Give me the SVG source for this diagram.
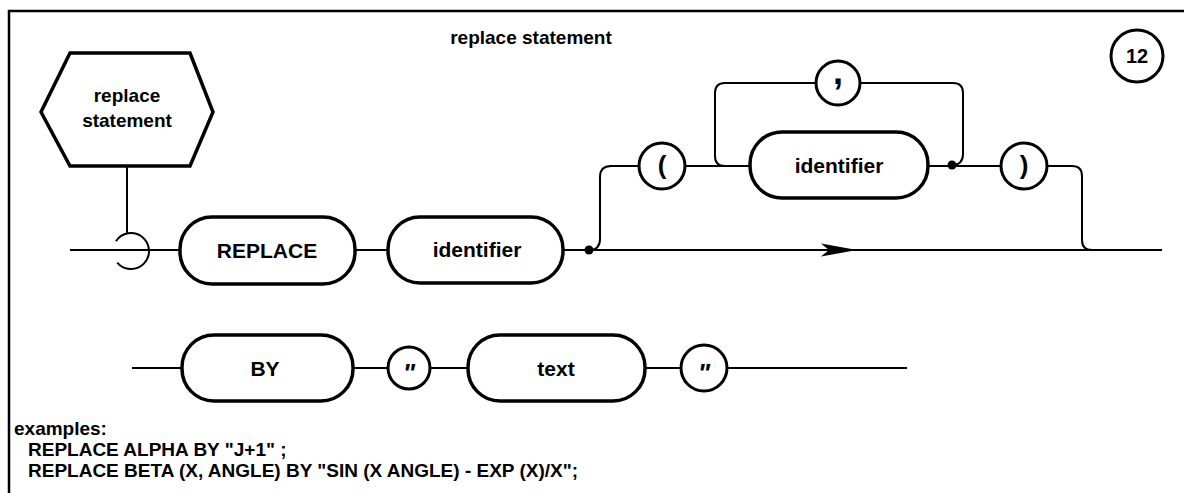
<svg xmlns="http://www.w3.org/2000/svg" width="1184" height="493" viewBox="0 0 1184 493">
<style>
.bg{fill:#fff}
.frame{fill:none;stroke:#000;stroke-width:2.5}
.box{fill:#fff;stroke:#000;stroke-width:3.5}
.circ{fill:#fff;stroke:#000;stroke-width:3}
.line{fill:none;stroke:#000;stroke-width:2}
.t{font-family:"Liberation Sans",Arial,sans-serif;font-weight:bold;fill:#000;text-anchor:middle}
.lbl{font-size:21px}
.hex{font-size:19px}
.sym{font-size:26px}
.ex{font-family:"Liberation Sans",Arial,sans-serif;font-weight:bold;font-size:19px;fill:#000}
</style>
<rect class="bg" x="0" y="0" width="1184" height="493"/>
<g id="frame">
<path class="frame" d="M9 493 V11 H1184"/>
<text class="t" x="531" y="44" style="font-size:19px">replace statement</text>
</g>
<g id="page-number">
<circle class="circ" cx="1137" cy="56" r="26"/>
<text class="t" x="1137" y="63" style="font-size:20px">12</text>
</g>
<g id="connectors">
<path class="line" d="M127 166 V233"/>
<path class="line" d="M115.9 241.2 A18 18 0 1 1 117.2 262.6"/>
<path class="line" d="M70 250 H180"/>
<path class="line" d="M355 250 H388"/>
<path class="line" d="M563 250 H1162"/>
<path class="line" d="M589 250 Q600 250 600 239 V177 Q600 166 611 166 H639"/>
<path class="line" d="M685 166 H750"/>
<path class="line" d="M725 166 Q715 166 715 156 V93 Q715 83 725 83 H816"/>
<path class="line" d="M860 83 H953 Q963 83 963 93 V154 Q963 165 952 165"/>
<path class="line" d="M928 166 H1001"/>
<path class="line" d="M1047 166 H1072 Q1082 166 1082 176 V240 Q1082 250 1092 250"/>
<circle cx="589" cy="250" r="4.5" fill="#000"/>
<circle cx="952" cy="165" r="4.5" fill="#000"/>
<polygon points="821,243.5 857,250 821,256.5 829,250" fill="#000"/>
<path class="line" d="M132 368 H182"/>
<path class="line" d="M353 368 H388"/>
<path class="line" d="M430 368 H468"/>
<path class="line" d="M645 368 H681"/>
<path class="line" d="M727 368 H907"/>
</g>
<g id="node-replace-statement">
<polygon class="box" points="70,53 190,53 213,112 190,166 70,166 41,112"/>
<text class="t hex" x="127" y="102">replace</text>
<text class="t hex" x="127" y="127">statement</text>
</g>
<g id="node-REPLACE">
<rect class="box" x="180" y="217" width="175" height="67" rx="32" ry="32"/>
<text class="t lbl" x="267" y="258">REPLACE</text>
</g>
<g id="node-identifier-1">
<rect class="box" x="388" y="217" width="175" height="66" rx="32" ry="32"/>
<text class="t lbl" x="477" y="257">identifier</text>
</g>
<g id="node-lparen">
<circle class="circ" cx="662" cy="166" r="23"/>
<text class="t sym" x="662" y="174">(</text>
</g>
<g id="node-identifier-2">
<rect class="box" x="750" y="132" width="178" height="66" rx="32" ry="32"/>
<text class="t lbl" x="839" y="173">identifier</text>
</g>
<g id="node-comma">
<circle class="circ" cx="838" cy="83" r="22"/>
<text class="t" x="838" y="84" style="font-size:36px">,</text>
</g>
<g id="node-rparen">
<circle class="circ" cx="1024" cy="166" r="23"/>
<text class="t sym" x="1024" y="174">)</text>
</g>
<g id="node-BY">
<rect class="box" x="182" y="335" width="171" height="66" rx="32" ry="32"/>
<text class="t lbl" x="265" y="376">BY</text>
</g>
<g id="node-quote-1">
<circle class="circ" cx="409" cy="368" r="21"/>
<text class="t sym" x="409" y="382" font-style="italic">"</text>
</g>
<g id="node-text">
<rect class="box" x="468" y="335" width="177" height="66" rx="32" ry="32"/>
<text class="t lbl" x="556" y="376">text</text>
</g>
<g id="node-quote-2">
<circle class="circ" cx="704" cy="368" r="23"/>
<text class="t sym" x="704" y="382" font-style="italic">"</text>
</g>
<g id="examples">
<text class="ex" x="14" y="435">examples:</text>
<text class="ex" x="28" y="456">REPLACE ALPHA BY "J+1" ;</text>
<text class="ex" x="28" y="477">REPLACE BETA (X, ANGLE) BY "SIN (X ANGLE) - EXP (X)/X";</text>
</g>
</svg>
